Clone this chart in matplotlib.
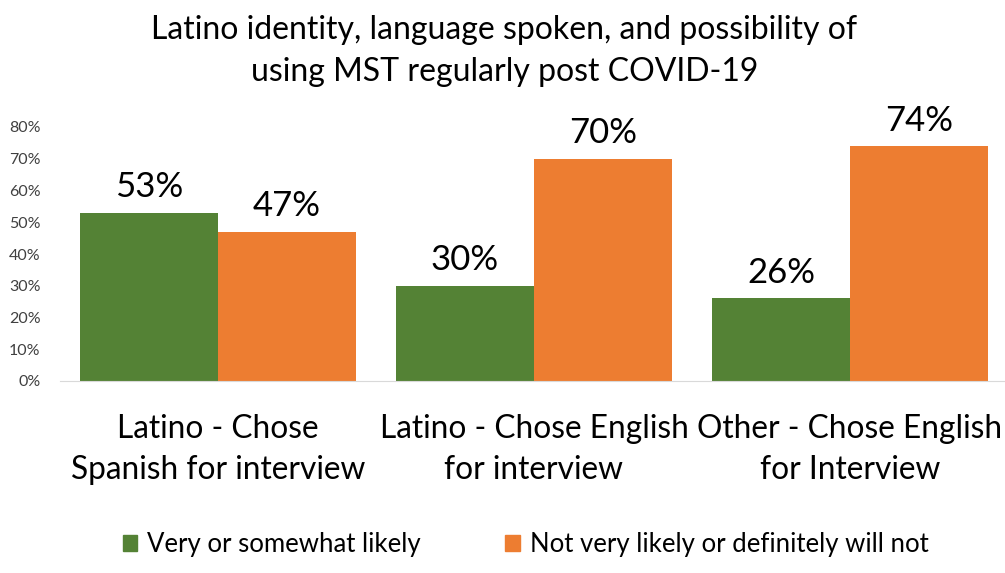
import numpy as np
import matplotlib.pyplot as plt
from matplotlib.patches import Patch

plt.rcParams['font.family'] = ['Lato', 'DejaVu Sans']

title = 'Latino identity, language spoken, and possibility of\nusing MST regularly post COVID-19'
groups = ['Latino - Chose\nSpanish for interview',
          'Latino - Chose English\nfor interview',
          'Other - Chose English\nfor Interview']
series = ['Very or somewhat likely', 'Not very likely or definitely will not']
likely = [53, 30, 26]
not_likely = [47, 70, 74]
colors = ['#548235', '#ED7D31']

fig = plt.figure(figsize=(10.05, 5.73), dpi=100)
ax = fig.add_axes([60 / 1005, 192 / 573, 948 / 1005, 254 / 573])

x = np.arange(len(groups))
w = 138 / 316
b1 = ax.bar(x - w / 2, np.array(likely) / 100, w, color=colors[0])
b2 = ax.bar(x + w / 2, np.array(not_likely) / 100, w, color=colors[1])

for bars, vals in ((b1, likely), (b2, not_likely)):
    for r, v in zip(bars, vals):
        ax.text(r.get_x() + r.get_width() / 2, r.get_height() + 0.03, f'{v}%',
                ha='center', va='bottom', fontsize=25)

ax.set_xlim(-0.5, 2.5)
ax.set_ylim(0, 0.8)
ax.set_yticks(np.arange(0, 0.81, 0.1))
ax.set_yticklabels([f'{int(round(t * 100))}%' for t in np.arange(0, 0.81, 0.1)],
                   fontsize=11.5, color='#404040')
ax.set_xticks(x)
ax.set_xticklabels(groups, fontsize=22.8, linespacing=1.45)
ax.tick_params(axis='y', length=0, pad=14)
ax.tick_params(axis='x', length=0, pad=24)
for s in ('top', 'right', 'left'):
    ax.spines[s].set_visible(False)
ax.spines['bottom'].set_color('#d9d9d9')

fig.text(0.502, 0.973, title, ha='center', va='top', fontsize=23, linespacing=1.5)

handles = [Patch(color=c) for c in colors]
fig.legend(handles, series, loc='center', bbox_to_anchor=(0.523, 0.05), ncol=2,
           frameon=False, fontsize=18.5, handlelength=0.55, handleheight=0.55,
           handletextpad=0.4, columnspacing=3.3)

fig.savefig('out.png', dpi=100)
